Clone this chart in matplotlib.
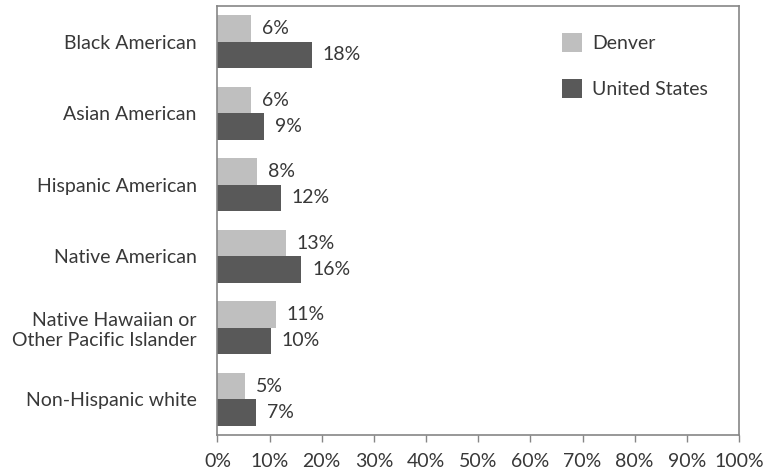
import numpy as np
import matplotlib
matplotlib.use("Agg")
import matplotlib.pyplot as plt

# values (percent)
categories = ["Black American", "Asian American", "Hispanic American",
              "Native American", "Native Hawaiian or\nOther Pacific Islander",
              "Non-Hispanic white"]
denver = [6.4, 6.4, 7.6, 13.1, 11.2, 5.3]
united_states = [18.1, 9.0, 12.1, 16.1, 10.2, 7.4]
series_names = ["Denver", "United States"]
x_ticks = np.arange(0, 101, 10)

plt.rcParams['font.family'] = ['Lato', 'DejaVu Sans']
text_color = "#383838"
spine_color = "#868686"
light = "#bfbfbf"
dark = "#595959"
fs = 14

fig = plt.figure(figsize=(7.71, 4.73), dpi=100)
ax = fig.add_axes([0.282, 0.0803, 0.6765, 0.907])

y = np.arange(len(categories))
h = 0.37

bars_d = ax.barh(y - h / 2, denver, height=h, color=light, label=series_names[0])
bars_u = ax.barh(y + h / 2, united_states, height=h, color=dark, label=series_names[1])

for bars, vals in [(bars_d, denver), (bars_u, united_states)]:
    for b, v in zip(bars, vals):
        ax.annotate(f"{v:.0f}%", (v, b.get_y() + b.get_height() / 2),
                    xytext=(8, 0), textcoords="offset points",
                    ha="left", va="center", fontsize=fs, color=text_color)

ax.set_xlim(0, 100)
ax.set_ylim(len(categories) - 0.5, -0.5)
ax.set_xticks(x_ticks)
ax.set_xticklabels([f"{t}%" for t in x_ticks])
ax.set_yticks(y)
ax.set_yticklabels(categories, ha="right")

ax.tick_params(axis="x", direction="out", length=5, width=1, color=spine_color,
               labelsize=fs, labelcolor=text_color, pad=8)
ax.tick_params(axis="y", length=0, labelsize=fs, labelcolor=text_color, pad=15)
for lbl in ax.get_yticklabels():
    lbl.set_multialignment("right")

for s in ax.spines.values():
    s.set_color(spine_color)
    s.set_linewidth(1.2)

leg = ax.legend(loc="upper left", bbox_to_anchor=(0.66, 0.938), frameon=False,
                fontsize=fs, handlelength=1.05, handleheight=1.15,
                labelspacing=1.4, handletextpad=0.5,
                borderpad=0, borderaxespad=0)
for t in leg.get_texts():
    t.set_color(text_color)

fig.savefig("out.png", dpi=100)
